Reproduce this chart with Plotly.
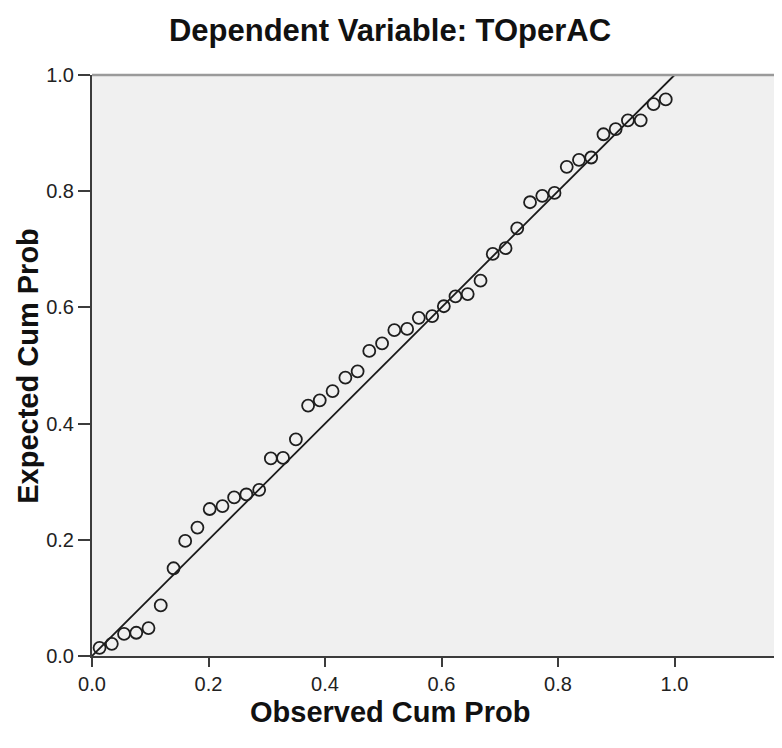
import plotly.graph_objects as go

# Observed vs expected cumulative probabilities
observed_cum_prob = [0.013, 0.034, 0.055, 0.076, 0.097, 0.118, 0.140, 0.160, 0.181, 0.202,
                     0.224, 0.244, 0.265, 0.287, 0.307, 0.328, 0.350, 0.371, 0.391, 0.413,
                     0.435, 0.456, 0.476, 0.498, 0.519, 0.541, 0.561, 0.584, 0.604, 0.624,
                     0.645, 0.667, 0.688, 0.710, 0.730, 0.752, 0.773, 0.794, 0.815, 0.836,
                     0.857, 0.878, 0.899, 0.920, 0.942, 0.964, 0.985]
expected_cum_prob = [0.014, 0.021, 0.038, 0.040, 0.048, 0.087, 0.151, 0.198, 0.221, 0.253,
                     0.258, 0.273, 0.278, 0.286, 0.340, 0.341, 0.373, 0.431, 0.440, 0.456,
                     0.479, 0.490, 0.525, 0.538, 0.561, 0.563, 0.582, 0.585, 0.602, 0.619,
                     0.623, 0.646, 0.692, 0.702, 0.736, 0.781, 0.792, 0.797, 0.842, 0.854,
                     0.858, 0.898, 0.907, 0.922, 0.922, 0.950, 0.958]
ref_line_x = [0.0, 1.0]
ref_line_y = [0.0, 1.0]
tick_vals = [0.0, 0.2, 0.4, 0.6, 0.8, 1.0]
tick_text = ["0.0", "0.2", "0.4", "0.6", "0.8", "1.0"]

FONT = "Liberation Sans, Arial, sans-serif"

fig = go.Figure()
fig.add_trace(go.Scatter(x=ref_line_x, y=ref_line_y, mode="lines",
                         line=dict(color="#1a1a1a", width=1.8), hoverinfo="skip"))
fig.add_trace(go.Scatter(x=observed_cum_prob, y=expected_cum_prob, mode="markers",
                         marker=dict(symbol="circle-open", size=12,
                                     color="#1e1e1e", line=dict(width=1.8, color="#1e1e1e"))))

# page has an 8px body margin; figure sized to fit the 782x748 window
W, H = 774, 740
L, R, T, B = 84, 0, 67, 91.5
pw = W - L - R
ph = H - T - B

fig.update_layout(
    width=W, height=H,
    margin=dict(l=L, r=R, t=T, b=B, pad=0),
    paper_bgcolor="white", plot_bgcolor="#f0f0f0",
    showlegend=False,
    font=dict(family=FONT, color="#222222"),
    title=dict(text="<b>Dependent Variable: TOperAC</b>", x=(390 - 8) / W, xref="container",
               xanchor="center", y=1 - 22 / H, yref="container", yanchor="middle",
               font=dict(size=31, family=FONT, color="#111111")),
)
fig.update_xaxes(range=[0, pw / 582.5], tickvals=tick_vals, ticktext=tick_text,
                 showgrid=False, zeroline=False, showline=True, linecolor="#3c3c3c",
                 linewidth=2, ticks="outside", ticklen=9, tickwidth=2, tickcolor="#3c3c3c",
                 tickfont=dict(size=20, family=FONT, color="#222222"))
fig.update_yaxes(range=[0, 1], tickvals=tick_vals, ticktext=tick_text,
                 showgrid=False, zeroline=False, showline=True, linecolor="#3c3c3c",
                 linewidth=2, ticks="outside", ticklen=12, tickwidth=2, tickcolor="#3c3c3c",
                 tickfont=dict(size=20, family=FONT, color="#222222"))

# top border of the plot frame
fig.add_shape(type="line", xref="paper", yref="paper", x0=0, x1=1, y0=1, y1=1,
              line=dict(color="#9a9a9a", width=2.5))

# axis titles
fig.add_annotation(text="<b>Observed Cum Prob</b>", xref="paper", yref="paper",
                   x=(390 - 8 - L) / pw, y=0, yshift=-(704 - (T + ph)), xanchor="center",
                   yanchor="middle", showarrow=False,
                   font=dict(size=29, family=FONT, color="#111111"))
fig.add_annotation(text="<b>Expected Cum Prob</b>", xref="paper", yref="paper",
                   x=0, xshift=-(L - 20), y=(ph - (366 - 8 - T)) / ph, xanchor="center",
                   yanchor="middle", textangle=-90, showarrow=False,
                   font=dict(size=29, family=FONT, color="#111111"))

fig.write_html("out.html")
